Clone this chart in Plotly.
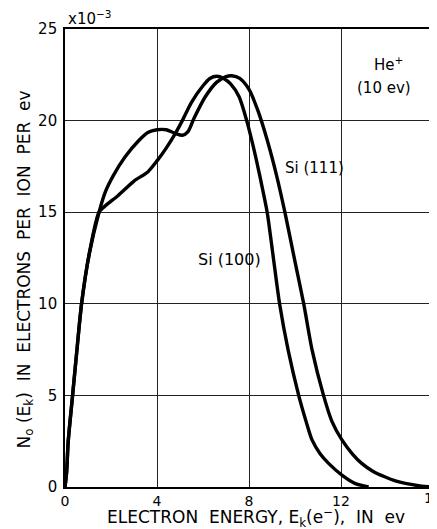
import plotly.graph_objects as go

# Electron energy (eV) and yield (x10^-3 electrons per ion per eV)
si111_e = [0, 0.07, 0.14, 0.33, 0.52, 0.72, 1.05, 1.48, 1.75, 2.1, 2.6, 3.2, 3.6, 4.0, 4.4,
           4.8, 5.1, 5.35, 5.6, 6.1, 6.6, 7.0, 7.25, 7.6, 8.0, 8.4, 8.8, 9.2, 9.56, 10.0,
           10.38, 10.74, 11.24, 11.6, 12.04, 12.5, 12.9, 13.4, 13.9, 14.4, 14.8, 15.5, 16.0]
si111_n = [0, 0.8, 2.5, 5.0, 7.5, 10.0, 12.7, 15.0, 16.1, 17.0, 18.0, 18.9, 19.35, 19.5, 19.5,
           19.3, 19.2, 19.4, 20.1, 21.3, 22.1, 22.4, 22.45, 22.3, 21.7, 20.5, 18.9, 17.0, 15.0, 12.3,
           10.0, 7.5, 5.0, 3.6, 2.57, 1.8, 1.29, 0.85, 0.56, 0.32, 0.2, 0.05, 0.0]

si100_e = [0, 0.07, 0.14, 0.33, 0.52, 0.72, 1.05, 1.48, 1.8, 2.3, 3.0, 3.6, 4.0, 4.4, 4.8,
           5.1, 5.5, 6.0, 6.3, 6.6, 6.9, 7.2, 7.57, 7.9, 8.22, 8.5, 8.79, 9.05, 9.33, 9.7,
           10.16, 10.5, 10.74, 11.1, 11.46, 12.04, 12.6, 13.2]
si100_n = [0, 0.8, 2.5, 5.0, 7.5, 10.0, 12.7, 15.0, 15.4, 15.9, 16.7, 17.2, 17.8, 18.5, 19.3,
           20.0, 21.0, 21.9, 22.3, 22.42, 22.3, 22.0, 21.3, 20.0, 18.4, 16.8, 15.0, 12.6, 10.0, 7.48,
           5.0, 3.5, 2.57, 1.8, 1.29, 0.65, 0.2, 0.0]

x_ticks = [0, 4, 8, 12, 16]
y_ticks = [0, 5, 10, 15, 20, 25]

FONT = "DejaVu Sans"

fig = go.Figure()
for xs, ys, name in [(si100_e, si100_n, "Si (100)"), (si111_e, si111_n, "Si (111)")]:
    fig.add_trace(go.Scatter(x=xs, y=ys, mode="lines", name=name,
                             line=dict(color="black", width=3.4, shape="spline", smoothing=0.7),
                             showlegend=False, cliponaxis=False))

axis_common = dict(showline=True, linecolor="black", linewidth=1.6, mirror=True,
                   showgrid=True, gridcolor="#222222", gridwidth=1, zeroline=False, ticks="")

# last x tick label sits on the right edge (partly cut in the original) -> drawn as annotation
fig.update_xaxes(range=[0, 16], tickvals=x_ticks,
                 ticktext=[str(v) for v in x_ticks[:-1]] + [""],
                 tickfont=dict(family=FONT, size=14, color="black"), **axis_common)
fig.update_yaxes(range=[0, 25], tickvals=y_ticks, ticktext=[str(v) for v in y_ticks],
                 ticklabelstandoff=3, tickfont=dict(family=FONT, size=15, color="black"), **axis_common)

ann_font = dict(family=FONT, size=15, color="black")
title_font = dict(family=FONT, size=17, color="black")
annotations = [
    dict(text=str(x_ticks[-1]), x=x_ticks[-1], y=0, xref="x", yref="paper", xanchor="center",
         yanchor="top", yshift=-1, showarrow=False, font=dict(family=FONT, size=14, color="black")),
    dict(text="x10<sup>−3</sup>", x=0, y=1, xref="paper", yref="paper", xanchor="left", yanchor="bottom",
         xshift=1, yshift=-1, showarrow=False, font=dict(family=FONT, size=15, color="black")),
    dict(text="He<sup>+</sup>", x=14.05, y=23.1, xref="x", yref="y", showarrow=False, font=ann_font),
    dict(text="(10 ev)", x=13.85, y=21.8, xref="x", yref="y", showarrow=False, font=ann_font),
    dict(text="Si (111)", x=10.85, y=17.4, xref="x", yref="y", showarrow=False, font=ann_font),
    dict(text="Si (100)", x=7.15, y=12.4, xref="x", yref="y", showarrow=False,
         font=dict(family=FONT, size=16, color="black")),
    dict(text="ELECTRON&nbsp; ENERGY,&nbsp;E<sub>k</sub>(e<sup>−</sup>),&nbsp; IN&nbsp; ev", x=0.52, y=0,
         xref="paper", yref="paper", xanchor="center", yanchor="middle", yshift=-30,
         showarrow=False, font=title_font),
    dict(text="N<sub>o</sub>&nbsp;(E<sub>k</sub>)&nbsp; IN&nbsp; ELECTRONS&nbsp; PER&nbsp; ION&nbsp; PER&nbsp; ev",
         x=0, y=0.475, xref="paper", yref="paper", xanchor="center", yanchor="middle", xshift=-40,
         textangle=-90, showarrow=False, font=title_font),
]

# The page body adds an 8px offset, so the figure is sized to fit the 437x529 window.
fig.update_layout(width=429, height=521, margin=dict(l=57, r=2, t=21, b=42),
                  paper_bgcolor="white", plot_bgcolor="white", annotations=annotations,
                  font=dict(family=FONT, color="black"))

fig.write_html("out.html")
